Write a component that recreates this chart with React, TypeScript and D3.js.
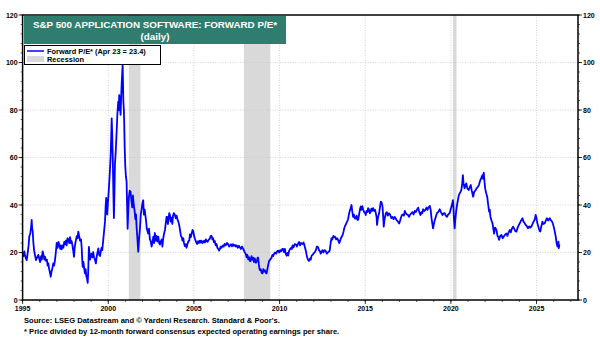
import React from "react";
import * as d3 from "d3";

const dates: number[] = [
1995.00,1995.05,1995.10,1995.14,1995.19,1995.24,1995.30,1995.35,1995.39,1995.45,1995.50,1995.53,1995.56,1995.59,1995.63,1995.67,1995.72,1995.78,1995.85,1995.92,1995.97,
1996.02,1996.08,1996.12,1996.17,1996.22,1996.27,1996.31,1996.36,1996.42,1996.46,1996.50,1996.55,1996.60,1996.64,1996.69,1996.74,1996.79,1996.84,1996.89,1996.94,1996.99,
1997.04,1997.09,1997.14,1997.19,1997.24,1997.28,1997.33,1997.38,1997.43,1997.47,1997.52,1997.57,1997.62,1997.67,1997.72,1997.77,1997.82,1997.86,1997.91,1997.95,
1998.00,1998.04,1998.08,1998.12,1998.17,1998.21,1998.25,1998.30,1998.35,1998.41,1998.45,1998.48,1998.51,1998.55,1998.60,1998.64,1998.68,1998.72,1998.76,1998.80,1998.83,1998.87,1998.91,1998.94,1998.97,
1999.02,1999.07,1999.12,1999.17,1999.22,1999.28,1999.32,1999.37,1999.42,1999.47,1999.52,1999.56,1999.61,1999.65,1999.69,1999.73,1999.77,1999.81,1999.85,1999.88,1999.91,1999.94,1999.98,
2000.02,2000.06,2000.10,2000.14,2000.17,2000.20,2000.23,2000.26,2000.30,2000.33,2000.36,2000.39,2000.44,2000.49,2000.53,2000.58,2000.61,2000.64,2000.68,2000.72,2000.75,2000.78,2000.81,2000.84,2000.86,2000.88,2000.91,2000.93,2000.96,2000.99,
2001.03,2001.07,2001.10,2001.13,2001.17,2001.20,2001.25,2001.30,2001.35,2001.40,2001.44,2001.49,2001.54,2001.58,2001.62,2001.66,2001.70,2001.75,2001.79,2001.85,2001.90,2001.95,
2002.00,2002.04,2002.08,2002.13,2002.20,2002.25,2002.33,2002.38,2002.43,2002.47,2002.53,2002.58,2002.63,2002.68,2002.72,2002.77,2002.82,2002.87,2002.92,2002.97,
2003.02,2003.06,2003.12,2003.16,2003.21,2003.26,2003.31,2003.37,2003.40,2003.44,2003.48,2003.52,2003.56,2003.60,2003.65,2003.69,2003.74,2003.78,2003.83,2003.89,2003.94,2003.99,
2004.04,2004.09,2004.14,2004.20,2004.24,2004.28,2004.33,2004.38,2004.42,2004.47,2004.52,2004.57,2004.62,2004.68,2004.73,2004.77,2004.82,2004.87,2004.92,2004.96,
2005.01,2005.06,2005.12,2005.19,2005.25,2005.30,2005.35,2005.40,2005.45,2005.50,2005.54,2005.60,2005.65,2005.70,2005.74,2005.80,2005.86,2005.93,2005.98,
2006.03,2006.08,2006.12,2006.17,2006.22,2006.27,2006.32,2006.37,2006.42,2006.47,2006.52,2006.56,2006.61,2006.68,2006.74,2006.80,2006.86,2006.93,
2007.00,2007.05,2007.10,2007.16,2007.22,2007.28,2007.33,2007.39,2007.45,2007.50,2007.56,2007.62,2007.68,2007.74,2007.80,2007.88,2007.94,
2008.03,2008.08,2008.12,2008.17,2008.22,2008.26,2008.31,2008.36,2008.41,2008.46,2008.50,2008.55,2008.62,2008.68,2008.72,2008.75,2008.79,2008.82,2008.85,2008.90,2008.95,
2009.00,2009.05,2009.09,2009.14,2009.19,2009.24,2009.29,2009.34,2009.39,2009.45,2009.53,2009.58,2009.63,2009.68,2009.73,2009.80,2009.86,2009.92,2009.98,
2010.04,2010.10,2010.16,2010.21,2010.26,2010.31,2010.36,2010.41,2010.46,2010.50,2010.56,2010.62,2010.68,2010.72,2010.76,2010.82,2010.88,2010.95,
2011.02,2011.08,2011.14,2011.20,2011.26,2011.34,2011.40,2011.45,2011.48,2011.54,2011.58,2011.61,2011.66,2011.70,2011.73,2011.78,2011.82,2011.87,2011.92,2011.98,
2012.06,2012.12,2012.18,2012.25,2012.30,2012.36,2012.40,2012.45,2012.50,2012.56,2012.60,2012.64,2012.70,2012.76,2012.84,2012.90,2012.93,2012.98,
2013.03,2013.08,2013.14,2013.18,2013.23,2013.30,2013.36,2013.42,2013.48,2013.52,2013.58,2013.62,2013.68,2013.74,2013.77,2013.81,2013.88,2013.94,
2014.00,2014.06,2014.12,2014.16,2014.20,2014.24,2014.29,2014.34,2014.40,2014.45,2014.50,2014.55,2014.59,2014.64,2014.69,2014.73,2014.78,2014.83,2014.88,2014.94,
2015.00,2015.03,2015.08,2015.13,2015.17,2015.22,2015.27,2015.31,2015.36,2015.41,2015.46,2015.52,2015.57,2015.62,2015.66,2015.69,2015.73,2015.77,2015.81,2015.86,2015.91,2015.96,
2016.01,2016.05,2016.08,2016.13,2016.20,2016.26,2016.32,2016.39,2016.45,2016.52,2016.59,2016.65,2016.72,2016.78,2016.84,2016.91,2016.98,
2017.02,2017.08,2017.14,2017.20,2017.26,2017.31,2017.37,2017.44,2017.50,2017.56,2017.62,2017.70,2017.76,2017.82,2017.89,2017.95,
2018.02,2018.09,2018.14,2018.18,2018.23,2018.28,2018.33,2018.38,2018.44,2018.50,2018.58,2018.64,2018.70,2018.77,2018.82,2018.87,2018.92,2018.96,
2019.01,2019.06,2019.12,2019.19,2019.26,2019.35,2019.42,2019.51,2019.57,2019.64,2019.70,2019.77,2019.84,2019.93,2019.98,
2020.03,2020.08,2020.12,2020.15,2020.18,2020.22,2020.26,2020.31,2020.36,2020.41,2020.46,2020.51,2020.56,2020.61,2020.66,2020.70,2020.74,2020.80,2020.85,2020.90,2020.96,
2021.04,2021.10,2021.16,2021.22,2021.30,2021.36,2021.45,2021.50,2021.58,2021.64,2021.72,2021.78,2021.84,2021.88,2021.92,2021.96,
2022.00,2022.06,2022.12,2022.18,2022.23,2022.27,2022.31,2022.37,2022.43,2022.48,2022.52,2022.58,2022.62,2022.66,2022.72,2022.77,2022.81,2022.88,2022.95,
2023.02,2023.09,2023.16,2023.24,2023.30,2023.37,2023.44,2023.50,2023.56,2023.63,2023.70,2023.76,2023.83,2023.90,2023.96,
2024.02,2024.10,2024.18,2024.24,2024.31,2024.38,2024.44,2024.50,2024.57,2024.63,2024.70,2024.76,2024.83,2024.90,2024.95,
2025.00,2025.04,2025.08,2025.14,2025.18,2025.22,2025.28,2025.34,2025.40,2025.48,2025.54,2025.61,2025.68,2025.77,2025.84,2025.91,2025.96,
2026.00,2026.06,2026.12,2026.17,2026.22,2026.26,2026.28,2026.30,2026.33,
];

const forwardPE: number[] = [
19.7,18.5,20.5,19,17.5,16.8,20,23,26.7,28,31,33.7,30,29,24,21,19,16.8,18,19,17.5,
16,18.5,17,20.5,19,17,18.2,16.5,17,14.5,15.4,13,11.5,9.8,12,13.5,15.4,14.5,16.8,20,24,
22,24.5,23.4,21.5,23,21.3,23,22,24.5,23.4,25,23,26,25.5,24,26.5,24,24.8,23,21,
18.2,22,24,25.5,27,26,28.8,27,25,25.5,22,17,14,16,13,11.2,13,10,9,7.2,12,22.4,19,17,18.2,
19.5,18,20.2,18,17,15.4,18,20,21.7,19,18.5,20.3,22,21,24,27,30,33,40,43,38,36,41,
45,49.8,55,61,68,76.5,70,61,45,34.5,45,57,63,71,78,83.5,80,86.3,82,78,85,90.5,95,99,92,84,80,75,64,57,
52,50,40,30,38,43,46,45.6,42,39,44,40,37.5,34,36,30,26,20.3,25,30,36,38.5,
41,42,36,38,33.7,30,28,30,25.5,25,22.5,24,26.7,24,28.2,25,27,24.6,26.7,24,
23.3,24.6,25.5,22.5,26,28,29.5,33,35,35,32,34,36.6,35.8,33,34.7,32,35.5,36.6,35.8,34.4,35.5,
34,33,31.6,29,27,26.7,25,26,24,22.7,23.5,22,23.5,24.8,25,27.6,26.5,28,29.5,29,
27,25.8,24.5,23.6,24.8,24,25,24.2,25,24,24.3,25,24.2,25.5,25,24.5,25.3,25.8,27,
27,25.5,26,24.3,24.8,23,23.6,22,21.5,20.8,21.5,22.5,22,23,22.5,23.6,23,24,
23.5,22.5,22.9,23.5,22.6,23.5,22.8,23.2,22.5,23,22,22.8,22.2,21.5,22.5,21.5,20.5,
19.3,18,19,17.1,18,16.5,16.4,18.5,17,17.8,16,17.5,15.7,16.5,17.8,17.8,15,13.5,12.6,13,11.5,
11.2,13,12,12.6,11.5,11.2,13,15,16.4,17,17.8,19,18.5,19.5,20,19.5,20.5,20.8,20,
21,20.5,21.5,21.5,20.2,21.5,19.5,18.7,19.8,18.7,20.8,21.5,22,21.5,23,22.2,23.5,23.4,
22.5,23.8,24.4,23,24,23.6,24.2,23,22.2,20.5,19,18,17,16.5,16.5,17.5,17,18.7,19,19.5,
20.2,21,22.5,22.2,21,20.5,19.5,20.2,21,20,20.8,21,20.5,19.5,20.2,20.5,21,24,
26,25.5,27,26.5,26.7,25.5,26,25.2,24,24.6,26,26.5,27.4,29,30,31,32,33,
34,36.5,38,39,40,37.5,35,36,34.3,34.3,35.5,33.7,33.7,36,38,39.3,38,39.5,38,37,
36.5,35.8,37.5,37,38.7,38,36.5,37.2,38.5,37.5,38.7,37.5,38,36.5,35,31.6,34,35.5,36.5,39,41.4,41,
39.3,35,30.9,34,36.5,37,35.5,36.5,36,34.5,35,34,35,34.3,33.5,33,32.2,
33,34.5,35.8,36,35.5,37.5,36.5,36,35.8,35,36,36.6,37,36,37.5,37,
38,38.9,37.5,36.5,35.8,37,36.5,38.2,37.5,37.8,38.9,38,39,39.6,38,34.4,32,30.2,
32,33.7,35,36.6,37,38.2,37,35.8,36.5,36.6,35.5,35,36,36.6,38,
39.3,40.5,42,39,34,30.2,34,37.5,40,42,44,44.9,45.5,46.3,49,52.6,49,47,48.5,49.1,47,
46.3,47.5,48.4,46,43.5,45.5,46.3,47,47.7,48.5,50.5,51.5,52.6,51,53.6,50,
47,45,43.5,40,37.2,38,35,33.5,32.3,30,28,30.5,30,29.5,27,26.5,25.3,27,27.4,
26,26.7,27.5,28,27,28.5,29.5,28.5,30,30.9,30,29,28.8,30.5,31.5,
32.3,33.5,34.4,33,32.3,31.5,31,30.2,31,30.5,30.9,32,33,34,35.8,
34.5,32.5,31.6,30,29,28.8,31,33,32,32.3,33.5,34.4,33.5,34.4,33.5,33,32,
30.9,29,26.7,24,22.5,24,24.6,21.8,23.4,
];

const recessionStart: number[] = [2001.2, 2007.92, 2020.12];
const recessionEnd: number[] = [2001.88, 2009.46, 2020.33];

const yTicks: number[] = [0, 20, 40, 60, 80, 100, 120];
const xTicks: number[] = [1995, 2000, 2005, 2010, 2015, 2020, 2025];

const titleLine1 = "S&P 500 APPLICATION SOFTWARE: FORWARD P/E*";
const titleLine2 = "(daily)";
const legendSeries = "Forward P/E* (Apr 23 = 23.4)";
const legendRecession = "Recession";
const footnote1 = "Source: LSEG Datastream and \u00A9 Yardeni Research. Standard & Poor's.";
const footnote2 = "* Price divided by 12-month forward consensus expected operating earnings per share.";

export default function App() {
  const W = 600, H = 338;
  const left = 22.6, right = 578, top = 15, bottom = 300;
  const x = d3.scaleLinear().domain([1995, 2027.42]).range([left, right]);
  const y = d3.scaleLinear().domain([0, 120]).range([bottom, top]);
  const pts = dates.map((d, i) => [d, forwardPE[i]] as [number, number]);
  const line = d3.line<[number, number]>().x(d => x(d[0])).y(d => y(d[1]));
  const font = "Arial, 'Liberation Sans', sans-serif";
  const years = d3.range(1995, 2028);
  const minorY = d3.range(0, 121, 4);

  return (
    <svg width={W} height={H} style={{ position: "absolute", left: 0, top: 0, background: "#fff" }} fontFamily={font}>
      <rect x={0} y={0} width={W} height={H} fill="#fff" />
      {recessionStart.map((s, i) => (
        <rect key={"r" + i} x={x(s)} y={top} width={x(recessionEnd[i]) - x(s)} height={bottom - top} fill="#d9d9d9" />
      ))}
      {yTicks.filter(t => t > 0 && t < 120).map(t => (
        <line key={"gy" + t} x1={left} x2={right} y1={y(t)} y2={y(t)} stroke="#c8c8c8" strokeWidth={0.8} strokeDasharray="1,1.5" />
      ))}
      {xTicks.filter(t => t > 1995).map(t => (
        <line key={"gx" + t} x1={x(t)} x2={x(t)} y1={top} y2={bottom} stroke="#c8c8c8" strokeWidth={0.8} strokeDasharray="1,1.5" />
      ))}
      <path d={line(pts) || ""} fill="none" stroke="#0000ff" strokeWidth={1.8} strokeLinejoin="round" />
      <rect x={left} y={top} width={right - left} height={bottom - top} fill="none" stroke="#000" strokeWidth={1.5} />
      {minorY.map(t => (
        <g key={"my" + t}>
          <line x1={left - 2} x2={left} y1={y(t)} y2={y(t)} stroke="#000" strokeWidth={0.6} />
          <line x1={right} x2={right + 2} y1={y(t)} y2={y(t)} stroke="#000" strokeWidth={0.6} />
        </g>
      ))}
      {yTicks.map(t => (
        <g key={"ty" + t}>
          <line x1={left - 4} x2={left} y1={y(t)} y2={y(t)} stroke="#000" strokeWidth={0.8} />
          <line x1={right} x2={right + 4} y1={y(t)} y2={y(t)} stroke="#000" strokeWidth={0.8} />
          <text x={left - 5} y={y(t) + 2.5} fontSize={7} fontWeight="bold" textAnchor="end" fill="#000">{t}</text>
          <text x={right + 5} y={y(t) + 2.5} fontSize={7} fontWeight="bold" textAnchor="start" fill="#000">{t}</text>
        </g>
      ))}
      {years.map(t => (
        <line key={"mx" + t} x1={x(t)} x2={x(t)} y1={bottom} y2={bottom + 2} stroke="#000" strokeWidth={0.6} />
      ))}
      {xTicks.map(t => (
        <g key={"tx" + t}>
          <line x1={x(t)} x2={x(t)} y1={bottom} y2={bottom + 4} stroke="#000" strokeWidth={0.8} />
          <text x={x(t)} y={bottom + 11} fontSize={7} fontWeight="bold" textAnchor="middle" fill="#000">{t}</text>
        </g>
      ))}
      <rect x={24} y={16} width={262} height={28} fill="#2f7d6f" />
      <text x={155} y={27.5} fontSize={9.8} fontWeight="bold" fill="#fff" textAnchor="middle">{titleLine1}</text>
      <text x={155} y={40} fontSize={9.8} fontWeight="bold" fill="#fff" textAnchor="middle">{titleLine2}</text>
      <rect x={24.5} y={45.5} width={136} height={19} fill="#fff" stroke="#000" strokeWidth={1} />
      <line x1={27} x2={44} y1={51} y2={51} stroke="#0000ff" strokeWidth={1.5} />
      <text x={47} y={53.5} fontSize={7.4} fontWeight="bold" fill="#000">{legendSeries}</text>
      <rect x={27} y={56} width={17} height={6} fill="#d9d9d9" />
      <text x={47} y={62} fontSize={7.4} fontWeight="bold" fill="#000">{legendRecession}</text>
      <text x={24} y={323} fontSize={7.6} fontWeight="bold" fill="#000">{footnote1}</text>
      <text x={24} y={333.5} fontSize={7.6} fontWeight="bold" fill="#000">{footnote2}</text>
    </svg>
  );
}
